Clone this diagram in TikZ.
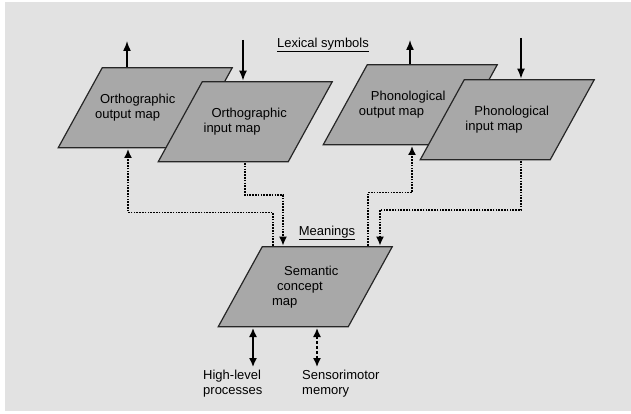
\documentclass[tikz,border=0pt]{standalone}
\usepackage{fontspec}
\setmainfont{Liberation Sans}
\usetikzlibrary{arrows.meta}
\definecolor{paper}{HTML}{E2E2E2}
\definecolor{mapgray}{HTML}{A8A8A8}
\tikzset{
  map/.style={rectangle, anchor=south west, minimum width=176pt, minimum height=82pt,
    inner sep=0pt, align=left, font=\fontsize{13}{15}\selectfont,
    path picture={
      \filldraw[fill=mapgray, draw=black!85, line width=1.2pt, line join=miter]
        ([shift={(1pt,1pt)}]path picture bounding box.south west)
        -- ([shift={(131pt,1pt)}]path picture bounding box.south west)
        -- ([shift={(-1pt,-1pt)}]path picture bounding box.north east)
        -- ([shift={(-131pt,-1pt)}]path picture bounding box.north east)
        -- cycle;
    }},
  heading/.style={font=\fontsize{13}{15}\selectfont, inner sep=1pt},
  caption/.style={align=left, anchor=north west, inner sep=0pt,
    font=\fontsize{13}{15}\selectfont},
  io/.style={line width=1.5pt, -{Latex[length=10pt,width=8pt]}},
  feed/.style={line width=1.6pt, dash pattern=on 1.6pt off 1.2pt,
    -{Latex[length=9pt,width=8pt]}},
  twoway/.style={line width=1.5pt, {Latex[length=9pt,width=8pt]}-{Latex[length=9pt,width=8pt]}}
}
\begin{document}
\begin{tikzpicture}[x=1pt,y=-1pt]
  \useasboundingbox (0,0) rectangle (631,414);
  \fill[paper] (5,2) rectangle (631,411);

  % lexical symbols
  \node[map] (orthout) at (57,149) {\hspace{5pt}Orthographic\hspace*{20pt}\\output map};
  \node[map] (orthin) at (157,163) {\hspace{8pt}Orthographic\\input map};
  \node[map] (phonout) at (322,146) {\hspace{12pt}Phonological\hspace*{16pt}\\output map};
  \node[map] (phonin) at (419,161) {\hspace{9pt}Phonological\\input map};
  \node[heading] (lexical) at (323,45) {\underline{Lexical symbols}};

  % meanings
  \node[map] (semantic) at (217,328) {\hspace{12pt}Semantic\\\hspace{5pt}concept\\map};
  \node[heading] (meanings) at (327,233) {\underline{Meanings}};

  % in and out of the lexicon
  \coordinate (orthouttip) at (127,41);
  \coordinate (orthinsrc) at (243,40);
  \coordinate (phonouttip) at (410,40);
  \coordinate (phoninsrc) at (521,38);
  \draw[io] (orthout.north -| orthouttip) -- (orthouttip);
  \draw[io] (orthinsrc) -- (orthinsrc |- orthin.north);
  \draw[io] (phonout.north -| phonouttip) -- (phonouttip);
  \draw[io] (phoninsrc) -- (phoninsrc |- phonin.north);

  % lexicon <-> meanings
  \draw[feed] ([xshift=56pt]semantic.north west) -- ++(0,-33) -| ([xshift=71pt]orthout.south west);
  \draw[feed] ([xshift=88pt]orthin.south west) -- ++(0,32) -| ([xshift=66pt]semantic.north west);
  \draw[feed] ([xshift=151pt]semantic.north west) -- ++(0,-53) -| ([xshift=90pt]phonout.south west);
  \draw[feed] ([xshift=102pt]phonin.south west) -- ++(0,49) -| ([xshift=163pt]semantic.north west);

  % below the semantic map
  \node[caption] (highlevel) at (203,370) {High-level\\processes};
  \node[caption] (sensori) at (302,370) {Sensorimotor\\memory};
  \draw[twoway] ([xshift=36pt]semantic.south west) -- ++(0,39);
  \draw[twoway, dash pattern=on 3pt off 2pt] ([xshift=100pt]semantic.south west) -- ++(0,39);
\end{tikzpicture}
\end{document}
